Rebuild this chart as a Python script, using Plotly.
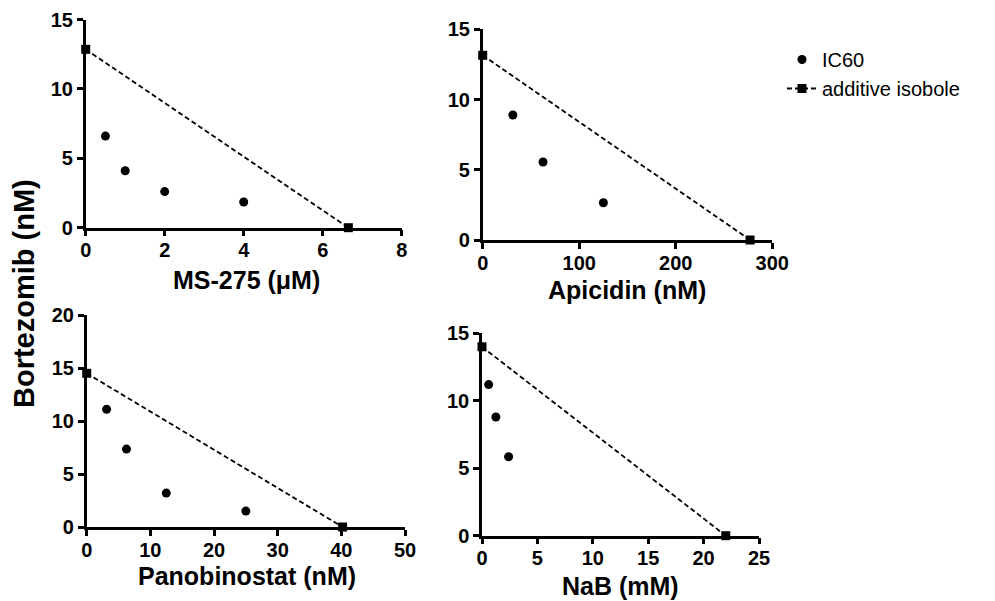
import plotly.graph_objects as go

# ---- data ----
ms275_x = [0.5, 1, 2, 4]
ms275_y = [6.6, 4.1, 2.6, 1.85]
ms275_iso_x = [0, 6.65]
ms275_iso_y = [12.85, 0]

apicidin_x = [31.25, 62.5, 125]
apicidin_y = [8.9, 5.55, 2.65]
apicidin_iso_x = [0, 277]
apicidin_iso_y = [13.15, 0]

pano_x = [3.125, 6.25, 12.5, 25]
pano_y = [11.1, 7.35, 3.2, 1.5]
pano_iso_x = [0, 40.2]
pano_iso_y = [14.5, 0]

nab_x = [0.6, 1.25, 2.4]
nab_y = [11.2, 8.8, 5.85]
nab_iso_x = [0, 22]
nab_iso_y = [14.0, 0]

x_titles = ["MS-275 (\u03bcM)", "Apicidin (nM)", "Panobinostat (nM)", "NaB (mM)"]
x_ranges = [[0, 8], [0, 300], [0, 50], [0, 25]]
x_dticks = [2, 100, 10, 5]
y_ranges = [[0, 15], [0, 15], [0, 20], [0, 15]]
y_dtick = 5
y_title = "Bortezomib (nM)"

FONT = "Liberation Sans, Arial, sans-serif"
W, H = 995, 601
OFF = 8  # page body margin: figure origin sits at (8, 8) on screen


def fx(px):
    return (px - OFF) / W


def fy(py):
    return 1 - (py - OFF) / H


# panel screen-pixel boxes: (left, right, top, bottom)
boxes = [
    (85.7, 401.7, 19.5, 227.7),
    (482.7, 772.3, 29.3, 240.0),
    (86.7, 405.0, 315.0, 527.0),
    (482.0, 759.0, 333.3, 535.7),
]
# x-title centres in screen pixels
title_pos = [(246, 280), (627, 290), (247, 576), (620, 586)]

fig = go.Figure()

datasets = [
    (ms275_x, ms275_y, ms275_iso_x, ms275_iso_y),
    (apicidin_x, apicidin_y, apicidin_iso_x, apicidin_iso_y),
    (pano_x, pano_y, pano_iso_x, pano_iso_y),
    (nab_x, nab_y, nab_iso_x, nab_iso_y),
]

for i, (px, py, ix, iy) in enumerate(datasets):
    xa = "x" if i == 0 else f"x{i+1}"
    ya = "y" if i == 0 else f"y{i+1}"
    fig.add_trace(go.Scatter(
        x=ix, y=iy, mode="lines+markers", name="additive isobole",
        line=dict(color="black", width=1.8, dash="5px,3px"),
        marker=dict(symbol="square", size=9, color="black"),
        cliponaxis=False, showlegend=(i == 0), legendrank=2,
        xaxis=xa, yaxis=ya))
    fig.add_trace(go.Scatter(
        x=px, y=py, mode="markers", name="IC60",
        marker=dict(symbol="circle", size=9, color="black"),
        cliponaxis=False, showlegend=(i == 0), legendrank=1,
        xaxis=xa, yaxis=ya))

for i, (l, r, t, b) in enumerate(boxes):
    xk = "xaxis" if i == 0 else f"xaxis{i+1}"
    yk = "yaxis" if i == 0 else f"yaxis{i+1}"
    ya = "y" if i == 0 else f"y{i+1}"
    xa = "x" if i == 0 else f"x{i+1}"
    common = dict(showline=True, linecolor="black", linewidth=2.5,
                  ticks="outside", ticklen=6, tickwidth=2.5, tickcolor="black",
                  showgrid=False, zeroline=False, automargin=False,
                  ticklabeloverflow="allow",
                  tickfont=dict(family=FONT, size=20, color="black", weight="bold"))
    fig.layout[xk] = dict(
        domain=[fx(l), fx(r)], anchor=ya, range=x_ranges[i], dtick=x_dticks[i],
        tick0=0, ticklabelstandoff=-3, **common)
    fig.layout[yk] = dict(
        domain=[fy(b), fy(t)], anchor=xa, range=y_ranges[i], dtick=y_dtick,
        tick0=0, **common)
    cx, cy = title_pos[i]
    fig.add_annotation(
        text=x_titles[i], x=fx(cx), y=fy(cy), xref="paper", yref="paper",
        showarrow=False, xanchor="center", yanchor="middle",
        font=dict(family=FONT, size=25, color="black", weight="bold"))

fig.add_annotation(
    text=y_title, textangle=-90, x=fx(24), y=fy(294),
    xref="paper", yref="paper", showarrow=False, xanchor="center", yanchor="middle",
    font=dict(family=FONT, size=29, color="black", weight="bold"))

fig.update_layout(
    width=W, height=H,
    margin=dict(l=0, r=0, t=0, b=0, autoexpand=False),
    paper_bgcolor="white", plot_bgcolor="white",
    showlegend=True,
    legend=dict(x=fx(782), y=fy(40), xanchor="left", yanchor="top",
                bgcolor="rgba(0,0,0,0)",
                font=dict(family=FONT, size=20, color="black"),
                itemwidth=30, tracegroupgap=0),
)

fig.write_html("out.html")
